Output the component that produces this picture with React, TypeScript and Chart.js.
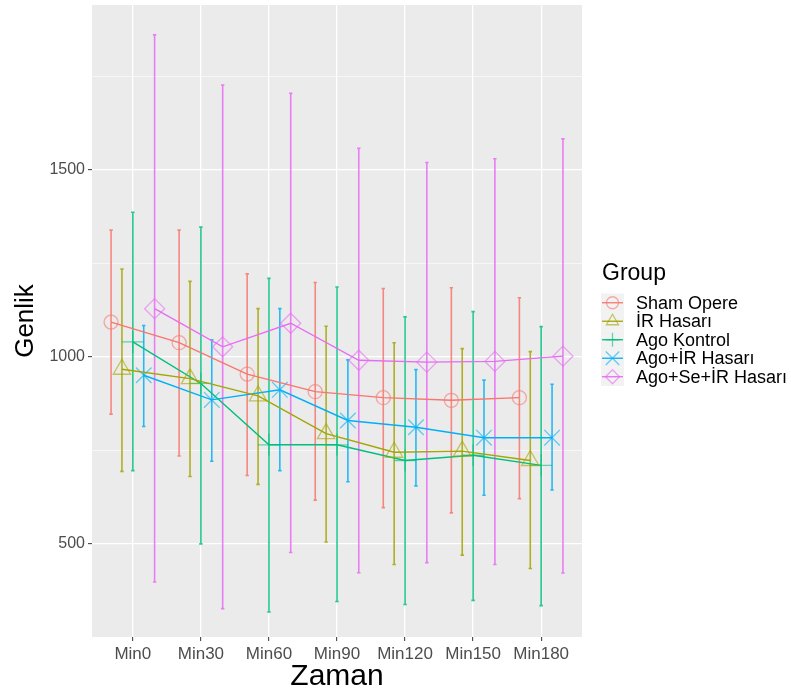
import React, { useEffect, useRef } from 'react';
import { Chart, registerables, LineController } from 'chart.js';

Chart.register(...registerables);

class NoOverflowLine extends LineController {
  static id = 'noOverflowLine';
  static defaults = LineController.defaults;
  static overrides = LineController.overrides;
  getMaxOverflow() {
    return 0;
  }
}
Chart.register(NoOverflowLine);

const categories = ['Min0', 'Min30', 'Min60', 'Min90', 'Min120', 'Min150', 'Min180'];
const groupNames = ['Sham Opere', 'İR Hasarı', 'Ago Kontrol', 'Ago+İR Hasarı', 'Ago+Se+İR Hasarı'];

const shamMean = [1093, 1038, 954, 907, 891, 884, 891];
const shamLow = [847, 735, 683, 617, 597, 583, 621];
const shamHigh = [1339, 1339, 1222, 1199, 1183, 1185, 1158];

const irMean = [967, 942, 896, 795, 745, 748, 723];
const irLow = [694, 680, 659, 505, 445, 470, 434];
const irHigh = [1235, 1202, 1129, 1082, 1038, 1022, 1014];

const kontrolMean = [1040, 929, 765, 765, 723, 737, 710];
const kontrolLow = [696, 500, 318, 346, 338, 349, 335];
const kontrolHigh = [1387, 1347, 1210, 1187, 1107, 1121, 1081];

const agoIrMean = [951, 885, 912, 830, 812, 784, 784];
const agoIrLow = [814, 721, 696, 666, 655, 630, 644];
const agoIrHigh = [1084, 1046, 1129, 992, 966, 938, 927];

const agoSeMean = [1129, 1027, 1090, 991, 986, 988, 1002];
const agoSeLow = [398, 327, 477, 423, 450, 445, 422];
const agoSeHigh = [1861, 1727, 1705, 1558, 1520, 1530, 1583];

const yTickValues = [500, 750, 1000, 1250, 1500, 1750];
const yLabelValues = [500, 1000, 1500];

const groupColors = ['#F8766D', '#A3A500', '#00BF7D', '#00B0F6', '#E76BF3'];
const pointStyles = ['circle', 'triangle', 'cross', 'crossRot', 'rectRot'];
const pointRadii = [7, 10, 11, 11, 10];
const legendRadii = [6, 7, 7, 9.5, 7];
const dodgeOffsets = [-0.32, -0.16, 0, 0.16, 0.32];

const FONT = '"Liberation Sans", Arial, Helvetica, sans-serif';

function rgba(hex: string, a: number) {
  const n = parseInt(hex.slice(1), 16);
  return `rgba(${(n >> 16) & 255},${(n >> 8) & 255},${n & 255},${a})`;
}

function drawMarker(ctx: CanvasRenderingContext2D, style: string, x: number, y: number, r: number) {
  ctx.beginPath();
  if (style === 'circle') {
    ctx.arc(x, y, r, 0, Math.PI * 2);
  } else if (style === 'triangle') {
    for (let k = 0; k < 3; k++) {
      const a = (k * 2 * Math.PI) / 3;
      const px = x + Math.sin(a) * r;
      const py = y - Math.cos(a) * r;
      if (k === 0) ctx.moveTo(px, py);
      else ctx.lineTo(px, py);
    }
    ctx.closePath();
  } else if (style === 'cross') {
    ctx.moveTo(x - r, y);
    ctx.lineTo(x + r, y);
    ctx.moveTo(x, y - r);
    ctx.lineTo(x, y + r);
  } else if (style === 'crossRot') {
    const o = r * Math.SQRT1_2;
    ctx.moveTo(x - o, y - o);
    ctx.lineTo(x + o, y + o);
    ctx.moveTo(x + o, y - o);
    ctx.lineTo(x - o, y + o);
  } else if (style === 'rectRot') {
    ctx.moveTo(x - r, y);
    ctx.lineTo(x, y - r);
    ctx.lineTo(x + r, y);
    ctx.lineTo(x, y + r);
    ctx.closePath();
  }
  ctx.stroke();
}

export default function App() {
  const ref = useRef<HTMLCanvasElement>(null);

  useEffect(() => {
    if (!ref.current) return;
    const means = [shamMean, irMean, kontrolMean, agoIrMean, agoSeMean];
    const lows = [shamLow, irLow, kontrolLow, agoIrLow, agoSeLow];
    const highs = [shamHigh, irHigh, kontrolHigh, agoIrHigh, agoSeHigh];

    const datasets = groupNames.map((name, g) => ({
      label: name,
      data: means[g].map((v, i) => ({ x: i + dodgeOffsets[g], y: v })),
      borderColor: groupColors[g],
      backgroundColor: groupColors[g],
      borderWidth: 1.4,
      pointStyle: pointStyles[g] as any,
      pointRadius: pointRadii[g],
      pointHoverRadius: pointRadii[g],
      pointBorderColor: rgba(groupColors[g], 0.6),
      pointBackgroundColor: 'rgba(0,0,0,0)',
      pointBorderWidth: 1.3,
      tension: 0,
      fill: false,
      clip: false as any,
    }));

    const panelBg = {
      id: 'panelBg',
      beforeDraw(chart: any) {
        const { ctx, chartArea: a } = chart;
        ctx.save();
        ctx.fillStyle = '#EBEBEB';
        ctx.fillRect(a.left, a.top, a.right - a.left, a.bottom - a.top);
        ctx.restore();
      },
    };

    const errorBars = {
      id: 'errorBars',
      beforeDatasetsDraw(chart: any) {
        const { ctx } = chart;
        const xs = chart.scales.x;
        const ys = chart.scales.y;
        ctx.save();
        ctx.lineWidth = 1.6;
        groupNames.forEach((_, g) => {
          ctx.strokeStyle = rgba(groupColors[g], 0.85);
          categories.forEach((__, i) => {
            const px = xs.getPixelForValue(i + dodgeOffsets[g]);
            const lo = ys.getPixelForValue(lows[g][i]);
            const hi = ys.getPixelForValue(highs[g][i]);
            ctx.beginPath();
            ctx.moveTo(px, lo);
            ctx.lineTo(px, hi);
            ctx.moveTo(px - 1.7, lo);
            ctx.lineTo(px + 1.7, lo);
            ctx.moveTo(px - 1.7, hi);
            ctx.lineTo(px + 1.7, hi);
            ctx.stroke();
          });
        });
        ctx.restore();
      },
    };

    const decor = {
      id: 'decor',
      afterDraw(chart: any) {
        const { ctx, chartArea: a } = chart;
        ctx.save();
        ctx.fillStyle = '#000';
        // x title
        ctx.font = `30px ${FONT}`;
        ctx.textAlign = 'center';
        ctx.textBaseline = 'alphabetic';
        ctx.fillText('Zaman', (a.left + a.right) / 2, 685);
        // y title
        ctx.save();
        ctx.translate(33, (a.top + a.bottom) / 2);
        ctx.rotate(-Math.PI / 2);
        ctx.font = `26px ${FONT}`;
        ctx.fillText('Genlik', 0, 0);
        ctx.restore();
        // legend
        ctx.textAlign = 'left';
        ctx.font = `23px ${FONT}`;
        ctx.fillText('Group', 602, 280);
        const keyH = 18.5;
        const top0 = 293.5;
        groupNames.forEach((name, g) => {
          const ky = top0 + g * keyH;
          const cy = ky + keyH / 2;
          ctx.fillStyle = '#F2F2F2';
          ctx.fillRect(601, ky, 23, keyH);
          ctx.strokeStyle = groupColors[g];
          ctx.lineWidth = 1.3;
          ctx.beginPath();
          ctx.moveTo(602, cy);
          ctx.lineTo(623, cy);
          ctx.stroke();
          ctx.strokeStyle = rgba(groupColors[g], 0.6);
          drawMarker(ctx, pointStyles[g], 612.5, cy, legendRadii[g]);
          ctx.fillStyle = '#000';
          ctx.font = `18px ${FONT}`;
          ctx.textBaseline = 'middle';
          ctx.fillText(name, 636, cy + 1);
          ctx.textBaseline = 'alphabetic';
        });
        ctx.restore();
      },
    };

    const chart = new Chart(ref.current, {
      type: 'noOverflowLine' as any,
      data: { datasets },
      options: {
        animation: false,
        responsive: false,
        devicePixelRatio: 1,
        layout: { padding: { left: 0, top: 5, right: 209, bottom: 0 } },
        plugins: { legend: { display: false }, tooltip: { enabled: false } },
        scales: {
          x: {
            type: 'linear',
            min: -0.6,
            max: 6.6,
            afterBuildTicks: (scale: any) => {
              scale.ticks = categories.map((_, i) => ({ value: i }));
            },
            afterFit: (scale: any) => {
              scale.height = 54;
              scale.paddingLeft = 0;
              scale.paddingRight = 0;
            },
            grid: {
              color: '#FFFFFF',
              lineWidth: 1.3,
              drawTicks: true,
              tickLength: 4,
              tickColor: '#333333',
              tickWidth: 1,
            },
            border: { display: false },
            ticks: {
              autoSkip: false,
              maxRotation: 0,
              padding: 3,
              color: '#4D4D4D',
              font: { family: FONT, size: 17 },
              callback: (v: any) => categories[Math.round(Number(v))] ?? '',
            },
          },
          y: {
            type: 'linear',
            min: 251,
            max: 1941,
            afterBuildTicks: (scale: any) => {
              scale.ticks = yTickValues.map((v) => ({ value: v }));
            },
            afterFit: (scale: any) => {
              scale.width = 92;
              scale.paddingTop = 0;
              scale.paddingBottom = 0;
            },
            grid: {
              color: '#FFFFFF',
              lineWidth: (c: any) => (yLabelValues.includes(c.tick?.value) ? 1.3 : 0.6),
              drawTicks: true,
              tickLength: 4,
              tickColor: (c: any) => (yLabelValues.includes(c.tick?.value) ? '#333333' : 'rgba(0,0,0,0)'),
              tickWidth: 1,
            },
            border: { display: false },
            ticks: {
              autoSkip: false,
              padding: 3,
              color: '#4D4D4D',
              font: { family: FONT, size: 16 },
              callback: (v: any) => (yLabelValues.includes(Number(v)) ? String(v) : ''),
            },
          },
        },
      },
      plugins: [panelBg, errorBars, decor],
    });
    return () => chart.destroy();
  }, []);

  return (
    <div style={{ position: 'absolute', left: 0, top: 0, width: 791, height: 691, background: '#FFFFFF' }}>
      <canvas ref={ref} width={791} height={691} style={{ display: 'block', width: 791, height: 691 }} />
    </div>
  );
}
